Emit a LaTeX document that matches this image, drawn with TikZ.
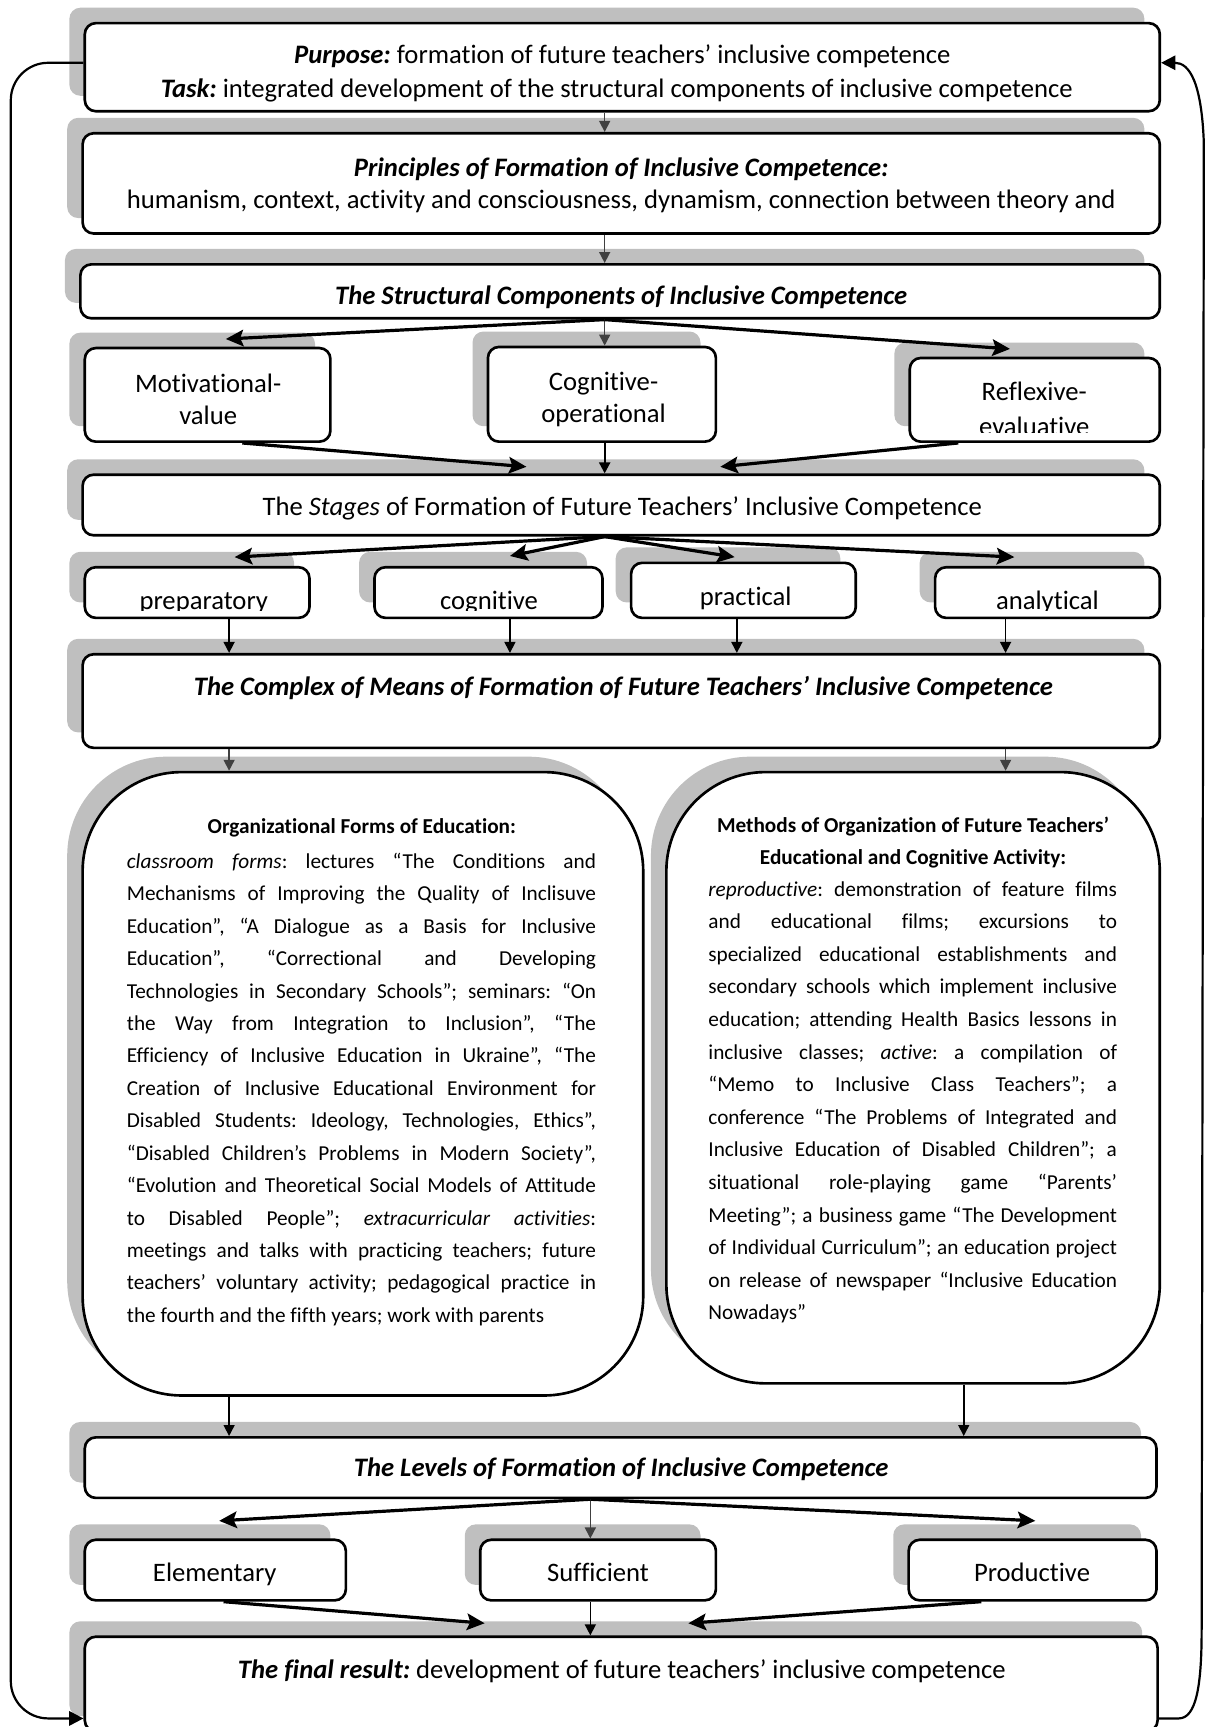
\documentclass[tikz,border=0pt]{standalone}
\usepackage{fontspec}
\setmainfont{Carlito}[Ligatures={TeX,NoCommon}]
\usetikzlibrary{arrows.meta,shadows,calc}
\definecolor{shadowgray}{RGB}{191,191,191}
\definecolor{thingray}{RGB}{64,64,64}
\frenchspacing
\tikzset{
  box/.style={draw=black, line width=2.4pt, fill=white, inner sep=0pt,
    general shadow={fill=shadowgray, shadow xshift=-14pt, shadow yshift=14pt}},
  txt/.style={inner sep=0pt, anchor=base, yshift=-3pt, font=\fontsize{24.2}{29}\selectfont\frenchspacing},
  body/.style={inner sep=0pt, anchor=base west, yshift=-3pt, font=\fontsize{19.3}{29}\selectfont\frenchspacing},
  btitle/.style={inner sep=0pt, anchor=base, yshift=-3pt, font=\fontsize{19.3}{29}\selectfont\bfseries\frenchspacing},
  thinarrow/.style={draw=thingray, line width=1.4pt, -{Triangle[length=10pt,width=10pt]}},
  thinblack/.style={draw=black, line width=1.4pt, -{Triangle[length=10pt,width=10pt]}},
  thickarrow/.style={draw=black, line width=2.9pt, -{Stealth[length=16pt,width=15pt,inset=3pt]}},
  loopline/.style={draw=black, line width=2pt, -{Triangle[length=13pt,width=13pt]}},
}
\newcommand\bx[6][10]{\node[box,rounded corners=#1pt,minimum width={(#5)-(#3)},minimum height={(#6)-(#4)}] (#2) at ({((#3)+(#5))/2},{((#4)+(#6))/2}) {};}
\begin{document}
\begin{tikzpicture}[x=1pt,y=-1pt]
\useasboundingbox (0,0) rectangle (1095,1568);
% boxes
\bx{b1}{77}{21}{1053}{101}
\bx{b2}{75}{121}{1053}{212}
\bx{b3}{73}{240}{1053}{289}
\bx{mot}{77}{316}{300}{401}
\bx{cog}{443}{315}{650}{401}
\bx{ref}{826}{325}{1053}{401}
\bx{stg}{75}{431}{1053}{486}
\bx{prep}{77}{515}{281}{561}
\bx{cogn}{340}{515}{547}{561}
\bx{pract}{573}{511}{777}{561}
\bx{anal}{849}{515}{1053}{561}
\bx{cmx}{75}{594}{1053}{679}
\bx[90]{bigL}{75}{701}{584}{1267}
\bx[90]{bigR}{605}{701}{1053}{1256}
\bx{lev}{77}{1305}{1050}{1360}
\bx{elem}{77}{1398}{314}{1453}
\bx{suff}{436}{1398}{650}{1453}
\bx{prod}{825}{1398}{1050}{1453}
\bx{fin}{77}{1486}{1051}{1572}
% texts
\node[txt] (t1a) at (565,54.6) {\textbf{\textit{Purpose:}} formation of future teachers’ inclusive competence};
\node[txt] (t1b) at (560,85.6) {\textbf{\textit{Task:}} integrated development of the structural components of inclusive competence};
\node[txt] (t2a) at (564,157.6) {\textbf{\textit{Principles of Formation of Inclusive Competence:}}};
\node[txt] (t2b) at (564,186.6) {humanism, context, activity and consciousness, dynamism, connection between theory and};
\node[txt] (t3) at (564,273.6) {\textbf{\textit{The Structural Components of Inclusive Competence}}};
\node[txt] (tmot1) at (189,353.6) {Motivational-};
\node[txt] (tmot2) at (189,382.6) {value};
\node[txt] (tcog1) at (548,351.6) {Cognitive-};
\node[txt] (tcog2) at (548,380.6) {operational};
\begin{scope}
\clip (826,325) rectangle (1053,393);
\node[txt] (tref1) at (939,360.6) {Reflexive-};
\node[txt] (tref2) at (939,392.5) {evaluative};
\end{scope}
\node[txt] (tstg) at (565,464.6) {The \textit{Stages} of Formation of Future Teachers’ Inclusive Competence};
\begin{scope}
\clip (77,505) rectangle (1053,554.5);
\node[txt] (tprep) at (185,550.6) {preparatory};
\node[txt] (tcogn) at (444,550.6) {cognitive};
\node[txt] (tpract) at (677,546.6) {practical};
\node[txt] (tanal) at (951,550.6) {analytical};
\end{scope}
\node[txt] (tcmx) at (566,628.6) {\textbf{\textit{The Complex of Means of Formation of Future Teachers’ Inclusive Competence}}};
% left big box text
\node[btitle] (lt) at (328.5,753.5) {Organizational Forms of Education:};
\foreach \t [count=\i] in {
 {\textit{classroom forms}: lectures “The Conditions and},
 {Mechanisms of Improving the Quality of Inclisuve},
 {Education”, “A Dialogue as a Basis for Inclusive},
 {Education”, “Correctional and Developing},
 {Technologies in Secondary Schools”; seminars: “On},
 {the Way from Integration to Inclusion”, “The},
 {Efficiency of Inclusive Education in Ukraine”, “The},
 {Creation of Inclusive Educational Environment for},
 {Disabled Students: Ideology, Technologies, Ethics”,},
 {“Disabled Children’s Problems in Modern Society”,},
 {“Evolution and Theoretical Social Models of Attitude},
 {to Disabled People”; \textit{extracurricular activities}:},
 {meetings and talks with practicing teachers; future},
 {teachers’ voluntary activity; pedagogical practice in}}
 {\node[body] (L\i) at (115,{785.5+(\i-1)*29.43}) {\makebox[426pt][s]{\t}};}
\node[body] (L15) at (115,{785.5+14*29.43}) {the fourth and the fifth years; work with parents};
% right big box text
\node[btitle] (rt1) at (829,752.5) {Methods of Organization of Future Teachers’};
\node[btitle] (rt2) at (829,781.5) {Educational and Cognitive Activity:};
\foreach \t [count=\i] in {
 {\textit{reproductive}: demonstration of feature films},
 {and educational films; excursions to},
 {specialized educational establishments and},
 {secondary schools which implement inclusive},
 {education; attending Health Basics lessons in},
 {inclusive classes; \textit{active}: a compilation of},
 {“Memo to Inclusive Class Teachers”; a},
 {conference “The Problems of Integrated and},
 {Inclusive Education of Disabled Children”; a},
 {situational role-playing game “Parents’},
 {Meeting”; a business game “The Development},
 {of Individual Curriculum”; an education project},
 {on release of newspaper “Inclusive Education}}
 {\node[body] (R\i) at (643,{810.5+(\i-1)*29.6}) {\makebox[371pt][s]{\t}};}
\node[body] (R14) at (643,{810.5+13*29.6}) {Nowadays”};
\node[txt] (tlev) at (564,1337.6) {\textbf{\textit{The Levels of Formation of Inclusive Competence}}};
\node[txt] (telem) at (195,1432.6) {Elementary};
\node[txt] (tsuff) at (543,1432.6) {Sufficient};
\node[txt] (tprod) at (937,1432.6) {Productive};
\node[txt] (tfin) at (564.5,1520.6) {\textbf{\textit{The final result:}} development of future teachers’ inclusive competence};
% axis coordinates
\coordinate (xa) at (549,0);
\coordinate (xb) at (208,0);
\coordinate (xc) at (463,0);
\coordinate (xd) at (669,0);
\coordinate (xe) at (913,0);
\coordinate (xf) at (875,0);
\coordinate (xg) at (536,0);
% connectors
\draw[thinarrow] (b1.south -| xa) -- (b2.north -| xa);
\draw[thinarrow] (b2.south -| xa) -- (b3.north -| xa);
\draw[thinarrow] (b3.south -| xa) -- (cog.north -| xa);
\draw[thickarrow] (b3.south -| xa) -- ($(mot.north)+(16.5,-7)$);
\draw[thickarrow] (b3.south -| xa) -- ($(ref.north)+(-22.5,-7)$);
\draw[thickarrow] ($(mot.south)+(31.5,0)$) -- ($(stg.north)+(-86,-6)$);
\draw[thinblack, line width=2pt] (cog.south -| xa) -- (stg.north -| xa);
\draw[thickarrow] ($(ref.south)+(-69.5,0)$) -- ($(stg.north)+(90,-6)$);
\draw[thickarrow] (stg.south -| xa) -- ($(prep.north)+(34,-8)$);
\draw[thickarrow] (stg.south -| xa) -- ($(cogn.north)+(19.5,-9)$);
\draw[thickarrow] (stg.south -| xa) -- ($(pract.north)+(-8,-4)$);
\draw[thickarrow] (stg.south -| xa) -- ($(anal.north)+(-30,-8)$);
\draw[thinblack] (prep.south -| xb) -- (cmx.north -| xb);
\draw[thinblack] (cogn.south -| xc) -- (cmx.north -| xc);
\draw[thinblack] (pract.south -| xd) -- (cmx.north -| xd);
\draw[thinblack] (anal.south -| xe) -- (cmx.north -| xe);
\draw[thinarrow] (cmx.south -| xb) -- (bigL.north -| xb);
\draw[thinarrow] (cmx.south -| xe) -- (bigR.north -| xe);
\draw[thinblack] (bigL.south -| xb) -- (lev.north -| xb);
\draw[thinblack] (bigR.south -| xf) -- (lev.north -| xf);
\draw[thickarrow] (lev.south -| xg) -- ($(elem.north)+(3.5,-16)$);
\draw[thinarrow] (lev.south -| xg) -- (suff.north -| xg);
\draw[thickarrow] (lev.south -| xg) -- ($(prod.north)+(2.5,-16)$);
\draw[thickarrow] ($(elem.south)+(7.5,0)$) -- ($(fin.north)+(-124,-11)$);
\draw[thinblack] (suff.south -| xg) -- (fin.north -| xg);
\draw[thickarrow] ($(prod.south)+(-46.5,0)$) -- ($(fin.north)+(61,-11)$);
% feedback loops
\draw[loopline, rounded corners=34pt] ([yshift=4pt]b1.west) -| ([xshift=-66pt,yshift=13pt]fin.south west) -- ([yshift=13pt]fin.south west);
\draw[loopline] ([yshift=13pt]fin.south east) -- ++(18,0) .. controls +(16,0) and (1091,1530) .. (1091,1480) -- (1093,130) .. controls (1091,75) and (1080,57) .. ([yshift=4pt]b1.east);
\end{tikzpicture}
\end{document}
